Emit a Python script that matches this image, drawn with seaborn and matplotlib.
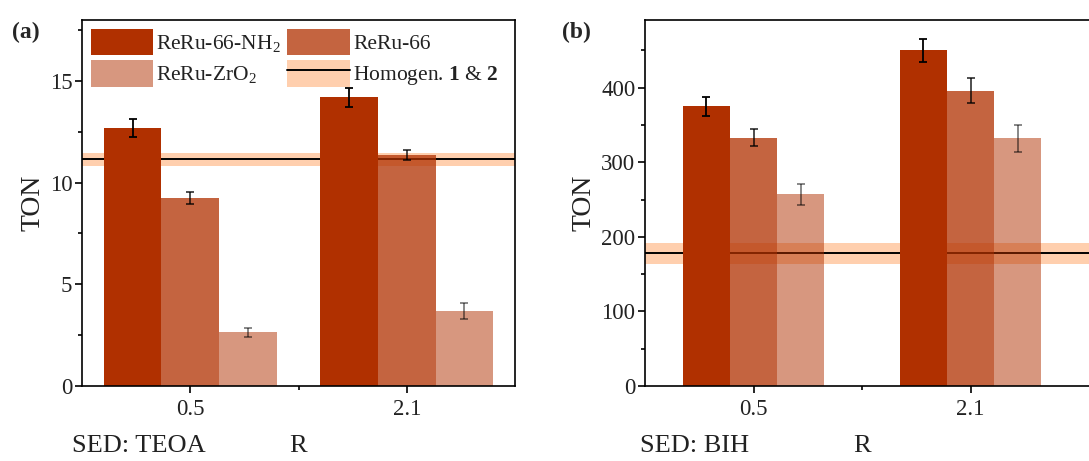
import numpy as np
import pandas as pd
import matplotlib
matplotlib.use("Agg")
import matplotlib.pyplot as plt
import seaborn as sns
from matplotlib.patches import Patch
from matplotlib.lines import Line2D
from matplotlib.ticker import MultipleLocator

# ---------------- data ----------------
r_labels = ["0.5", "2.1"]
series = ["ReRu-66-NH$_2$", "ReRu-66", "ReRu-ZrO$_2$"]

# panel (a) SED: TEOA
a_nh2 = [12.7, 14.2]
a_nh2_err = [0.45, 0.48]
a_66 = [9.25, 11.35]
a_66_err = [0.30, 0.25]
a_zr = [2.65, 3.70]
a_zr_err = [0.22, 0.40]
a_homog = 11.15
a_homog_err = 0.32

# panel (b) SED: BIH
b_nh2 = [375, 450]
b_nh2_err = [13, 15]
b_66 = [333, 396]
b_66_err = [11, 17]
b_zr = [257, 332]
b_zr_err = [14, 18]
b_homog = 178
b_homog_err = 14

# ---------------- style ----------------
sns.set_theme(style="ticks")
plt.rcParams["font.family"] = ["Liberation Serif", "DejaVu Serif"]
plt.rcParams["mathtext.fontset"] = "custom"
plt.rcParams["mathtext.rm"] = "Liberation Serif"
plt.rcParams["mathtext.it"] = "Liberation Serif:italic"
plt.rcParams["mathtext.bf"] = "Liberation Serif:bold"

base = "#B03000"
alphas = [1.0, 0.75, 0.5]
band_color = "#FFCFAE"
txt = "#222222"

W, H = 1089, 461
fig = plt.figure(figsize=(W / 100, H / 100), dpi=100)

def frac(left, top, right, bottom):
    return [left / W, 1 - bottom / H, (right - left) / W, (bottom - top) / H]

ax_a = fig.add_axes(frac(82, 20, 515, 386))
ax_b = fig.add_axes(frac(645, 20.5, 645 + 217 * 2.1, 386))


def draw(ax, vals, errs, homog, homog_err, width, ylim, major, minor, xlim, label_x):
    rows = []
    for s, v in zip(series, vals):
        for r, y in zip(r_labels, v):
            rows.append({"R": r, "Catalyst": s, "TON": y})
    df = pd.DataFrame(rows)
    ax.axhspan(homog - homog_err, homog + homog_err, color=band_color, lw=0, zorder=0)
    ax.axhline(homog, color="black", lw=1.4, zorder=1)
    sns.barplot(data=df, x="R", y="TON", hue="Catalyst", order=r_labels,
                hue_order=series, palette=[base] * 3, width=width, saturation=1,
                linewidth=0, errorbar=None, ax=ax, zorder=2, legend=False)
    for cont, err, al in zip(ax.containers, errs, alphas):
        xs, hs = [], []
        for p in cont.patches:
            p.set_alpha(al)
            xs.append(p.get_x() + p.get_width() / 2)
            hs.append(p.get_height())
        ax.errorbar(xs, hs, yerr=err, fmt="none", ecolor="black", alpha=al,
                    elinewidth=1.3, capsize=3.2, capthick=1.3, zorder=3)
    ax.set_ylim(*ylim)
    ax.set_xlim(*xlim)
    ax.yaxis.set_major_locator(MultipleLocator(major))
    ax.yaxis.set_minor_locator(MultipleLocator(minor))
    ax.set_xticks([0, 1])
    ax.set_xticklabels(r_labels)
    ax.set_xticks([0.5], minor=True)
    ax.tick_params(axis="both", which="major", direction="out", length=5,
                   width=1.2, labelsize=16.5, color="black", labelcolor=txt)
    ax.tick_params(axis="both", which="minor", direction="out", length=3,
                   width=1.2, color="black")
    ax.tick_params(axis="x", which="major", pad=4)
    ax.tick_params(axis="y", which="major", pad=2)
    for sp in ax.spines.values():
        sp.set_visible(True)
        sp.set_linewidth(1.2)
        sp.set_color("black")
    ax.set_ylabel("TON", fontsize=20, labelpad=3, color=txt)
    ax.set_xlabel("R", fontsize=19, color=txt, va="center")
    ax.xaxis.set_label_coords(label_x, -(446 - 386) / 366)
    ax.grid(False)


draw(ax_a, [a_nh2, a_66, a_zr], [a_nh2_err, a_66_err, a_zr_err],
     a_homog, a_homog_err, 0.8, (0, 18), 5, 2.5, (-0.5, 1.5), 0.5)
draw(ax_b, [b_nh2, b_66, b_zr], [b_nh2_err, b_66_err, b_zr_err],
     b_homog, b_homog_err, 0.65, (0, 490), 100, 50, (-0.5, 1.6), 1.0 / 2.1)

# legend for panel (a)
h_nh2 = Patch(facecolor=base, alpha=1.0, lw=0)
h_66 = Patch(facecolor=base, alpha=0.75, lw=0)
h_zr = Patch(facecolor=base, alpha=0.5, lw=0)
h_hom = (Patch(facecolor=band_color, lw=0), Line2D([], [], color="black", lw=1.4))
ax_a.legend([h_nh2, h_zr, h_66, h_hom],
            [series[0], series[2], series[1], "Homogen. $\\mathbf{1}$ & $\\mathbf{2}$"],
            ncol=2, loc="upper left", bbox_to_anchor=(0, 1), frameon=False,
            fontsize=15.5, handlelength=2.9, handleheight=1.5, handletextpad=0.15,
            columnspacing=0.3, labelspacing=0.25, borderaxespad=0.2, borderpad=0.2,
            labelcolor=txt)

# panel labels and SED labels
fig.text(12 / W, 1 - 32 / H, "(a)", fontsize=17, fontweight="bold", va="center", ha="left")
fig.text(562 / W, 1 - 32 / H, "(b)", fontsize=17, fontweight="bold", va="center", ha="left")
fig.text(72 / W, 1 - 446 / H, "SED: TEOA", fontsize=19, va="center", ha="left", color=txt)
fig.text(640 / W, 1 - 446 / H, "SED: BIH", fontsize=19, va="center", ha="left", color=txt)

fig.savefig("out.png", dpi=100)
